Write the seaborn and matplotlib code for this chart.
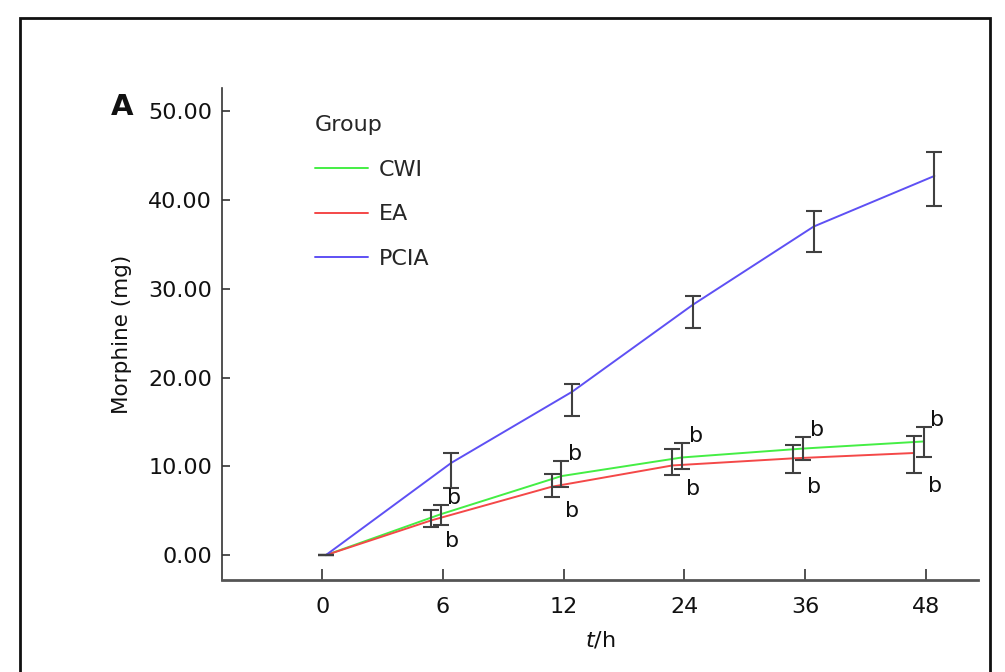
import numpy as np
import pandas as pd
import matplotlib
matplotlib.use("Agg")
import matplotlib.pyplot as plt
import seaborn as sns
from matplotlib.patches import Rectangle

# ---- data ----
time_labels = ["0", "6", "12", "24", "36", "48"]
groups = ["CWI", "EA", "PCIA"]

cwi_mean = [0.0, 4.6, 8.9, 11.0, 12.0, 12.8]
cwi_low = [0.0, 3.4, 7.7, 9.7, 10.7, 11.0]
cwi_high = [0.0, 5.7, 10.6, 12.6, 13.3, 14.4]

ea_mean = [0.0, 3.9, 7.7, 10.1, 10.9, 11.5]
ea_low = [0.0, 3.2, 6.5, 9.0, 9.2, 9.3]
ea_high = [0.0, 5.1, 9.1, 11.9, 12.4, 13.4]

pcia_mean = [0.0, 10.4, 18.4, 28.2, 37.0, 42.7]
pcia_low = [0.0, 7.6, 15.7, 25.6, 34.1, 39.3]
pcia_high = [0.0, 11.5, 19.3, 29.2, 38.8, 45.4]

sig_label = "b"
y_ticks = [0, 10, 20, 30, 40, 50]

colors = {"CWI": "#44ee44", "EA": "#f44848", "PCIA": "#5e50f4"}
dodge = {"CWI": -0.02, "EA": -0.10, "PCIA": 0.07}

means = {"CWI": cwi_mean, "EA": ea_mean, "PCIA": pcia_mean}
lows = {"CWI": cwi_low, "EA": ea_low, "PCIA": pcia_low}
highs = {"CWI": cwi_high, "EA": ea_high, "PCIA": pcia_high}

rows = []
for g in groups:
    for i, t in enumerate(time_labels):
        off = dodge[g] if i > 0 else 0.03
        rows.append({"group": g, "idx": i, "xpos": i + off, "mean": means[g][i],
                     "low": lows[g][i], "high": highs[g][i]})
df = pd.DataFrame(rows)

# ---- figure ----
sns.set_theme(style="white")
plt.rcParams["font.family"] = ["DejaVu Sans"]
plt.rcParams["mathtext.fontset"] = "dejavusans"

fig = plt.figure(figsize=(10.05, 6.72), dpi=100)
ax = fig.add_axes([0.2209, 0.1369, 0.7521, 0.7321])

sns.lineplot(data=df, x="xpos", y="mean", hue="group", hue_order=groups,
             palette=colors, linewidth=1.4, ax=ax, sort=True, estimator=None)

for g in groups:
    sub = df[df.group == g]
    yerr = np.vstack([sub["mean"] - sub["low"], sub["high"] - sub["mean"]])
    ax.errorbar(sub["xpos"], sub["mean"], yerr=yerr, fmt="none",
                ecolor="#404040", elinewidth=1.5, capsize=6, capthick=1.5, zorder=3)

# significance labels
cwi = df[df.group == "CWI"]
ea = df[df.group == "EA"]
for (_, r1), (_, r2) in zip(cwi.iterrows(), ea.iterrows()):
    if r1["idx"] == 0:
        continue
    ax.annotate(sig_label, (r1["xpos"], r1["high"]), xytext=(10, 5),
                textcoords="offset points", fontsize=16, ha="center", va="center",
                color="#111111")
    ax.annotate(sig_label, (r2["xpos"], r2["low"]), xytext=(15, -10),
                textcoords="offset points", fontsize=16, ha="center", va="center",
                color="#111111")

ax.set_xlim(-0.83, 5.43)
ax.set_ylim(-2.8, 52.6)
ax.set_xticks(range(len(time_labels)))
ax.set_xticklabels(time_labels)
ax.set_yticks(y_ticks)
ax.set_yticklabels([f"{v:.2f}" for v in y_ticks])

for s in ["top", "right"]:
    ax.spines[s].set_visible(False)
ax.spines["left"].set_color("#333333")
ax.spines["left"].set_linewidth(1.2)
ax.spines["bottom"].set_color("#555555")
ax.spines["bottom"].set_linewidth(2.0)

ax.tick_params(axis="x", direction="in", length=8, width=1.2, colors="#333333",
               labelsize=16, labelcolor="#111111", pad=12, bottom=True)
ax.tick_params(axis="y", direction="in", length=6, width=1.2, colors="#333333",
               labelsize=16, labelcolor="#111111", pad=7, left=True)

ax.set_xlabel(r"$\it{t}$/h", fontsize=16, color="#111111", labelpad=9)
ax.set_ylabel("Morphine (mg)", fontsize=15.5, color="#111111", labelpad=12)

handles, labels = ax.get_legend_handles_labels()
leg = ax.legend(handles, labels, title="Group", frameon=False, fontsize=16,
                title_fontsize=16, loc="upper left", bbox_to_anchor=(0.096, 0.985),
                handlelength=2.4, labelspacing=1.1, handletextpad=0.5,
                alignment="left")
for h in leg.legend_handles:
    h.set_linewidth(1.4)

fig.text(122 / 1005, 1 - 107 / 672, "A", fontsize=21, fontweight="bold",
         ha="center", va="center", color="#111111")

fig.patches.append(Rectangle((20 / 1005, -0.1), (990 - 20) / 1005, 1.1 - 18 / 672,
                             transform=fig.transFigure, fill=False,
                             edgecolor="#111111", linewidth=2, figure=fig))

fig.savefig("out.png", dpi=100)
